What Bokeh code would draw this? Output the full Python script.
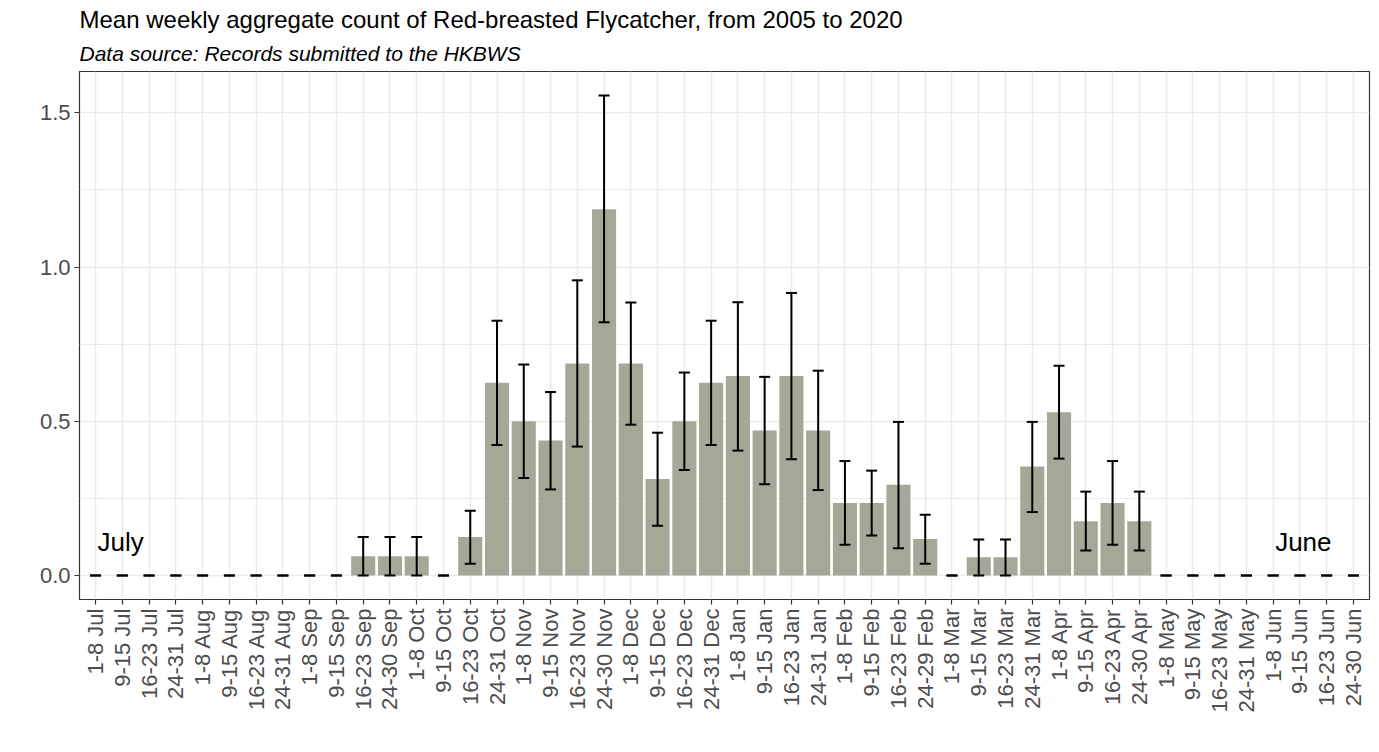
import math
from bokeh.plotting import figure
from bokeh.models import (ColumnDataSource, FactorRange, Range1d, FixedTicker,
                          NumeralTickFormatter, Whisker, TeeHead, Title)
from bokeh.core.properties import value
from bokeh.embed import file_html
from bokeh.resources import INLINE

months = ["Jul", "Aug", "Sep", "Oct", "Nov", "Dec", "Jan", "Feb", "Mar", "Apr", "May", "Jun"]
month_last = {"Jul": "31", "Aug": "31", "Sep": "30", "Oct": "31", "Nov": "30", "Dec": "31",
              "Jan": "31", "Feb": "29", "Mar": "31", "Apr": "30", "May": "31", "Jun": "30"}
weeks = []
for m in months:
    weeks += ["1-8 " + m, "9-15 " + m, "16-23 " + m, "24-" + month_last[m] + " " + m]

mean_count = [0, 0, 0, 0,            # Jul
              0, 0, 0, 0,            # Aug
              0, 0, 0.0625, 0.0625,  # Sep
              0.0625, 0, 0.125, 0.625,   # Oct
              0.5, 0.4375, 0.6875, 1.1875,  # Nov
              0.6875, 0.3125, 0.5, 0.625,   # Dec
              0.647, 0.47, 0.647, 0.47,     # Jan
              0.235, 0.235, 0.294, 0.118,   # Feb
              0, 0.0588, 0.0588, 0.353,     # Mar
              0.529, 0.176, 0.235, 0.176,   # Apr
              0, 0, 0, 0,            # May
              0, 0, 0, 0]            # Jun
err_low = [0, 0, 0, 0,
           0, 0, 0, 0,
           0, 0, 0, 0,
           0, 0, 0.038, 0.423,
           0.316, 0.279, 0.418, 0.821,
           0.489, 0.161, 0.342, 0.423,
           0.405, 0.296, 0.377, 0.277,
           0.10, 0.130, 0.088, 0.038,
           0, 0, 0, 0.206,
           0.379, 0.081, 0.10, 0.081,
           0, 0, 0, 0,
           0, 0, 0, 0]
err_high = [0, 0, 0, 0,
            0, 0, 0, 0,
            0, 0, 0.125, 0.125,
            0.125, 0, 0.21, 0.826,
            0.684, 0.595, 0.957, 1.556,
            0.885, 0.463, 0.658, 0.826,
            0.886, 0.644, 0.916, 0.664,
            0.371, 0.340, 0.498, 0.197,
            0, 0.117, 0.117, 0.498,
            0.680, 0.272, 0.371, 0.272,
            0, 0, 0, 0,
            0, 0, 0, 0]
y_ticks = [0, 0.5, 1.0, 1.5]
y_minor = [0.25, 0.75, 1.25]
season_labels = ["July", "June"]
season_at = ["1-8 Jul", "1-8 Jun"]

src = ColumnDataSource(dict(week=weeks, mean=mean_count, lower=err_low, upper=err_high))

p = figure(width=1376, height=750, output_backend="svg", toolbar_location=None,
           x_range=FactorRange(factors=weeks, range_padding=0.1, range_padding_units="absolute"),
           y_range=Range1d(-0.0778, 1.634),
           min_border_left=79, min_border_right=7, min_border_top=71, min_border_bottom=151)
p.title = None

sub = Title(text="Data source: Records submitted to the HKBWS", text_font="Liberation Sans",
            text_font_size="21px", text_font_style="italic", text_color="black",
            offset=0, standoff=13)
main = Title(text="Mean weekly aggregate count of Red-breasted Flycatcher, from 2005 to 2020",
             text_font="Liberation Sans", text_font_size="24px", text_font_style="normal",
             text_color="black", offset=0, standoff=2)
p.add_layout(sub, "above")
p.add_layout(main, "above")

p.vbar(x="week", top="mean", width=0.9, source=src, fill_color="#A6A796", line_color=None)

wh = Whisker(base="week", lower="lower", upper="upper", source=src, level="overlay",
             line_color="black", line_width=2,
             upper_head=TeeHead(size=11, line_color="black", line_width=2),
             lower_head=TeeHead(size=11, line_color="black", line_width=2))
p.add_layout(wh)

p.text(x=season_at, y=[0.11, 0.11], text=season_labels, text_font=value("Liberation Sans"),
       text_font_size="26px", text_color="black", text_align="left", text_baseline="alphabetic",
       x_offset=2)

p.background_fill_color = "white"
p.outline_line_color = "#333333"
p.outline_line_width = 1.2

p.xgrid.grid_line_color = "#ebebeb"
p.xgrid.grid_line_width = 1.5
p.ygrid.grid_line_color = "#ebebeb"
p.ygrid.grid_line_width = 1.5
p.ygrid.minor_grid_line_color = "#ebebeb"
p.ygrid.minor_grid_line_width = 1.2

p.yaxis.ticker = FixedTicker(ticks=y_ticks, minor_ticks=y_minor)
p.yaxis.formatter = NumeralTickFormatter(format="0.0")

for ax in (p.xaxis[0], p.yaxis[0]):
    ax.axis_line_color = None
    ax.major_tick_line_color = "#333333"
    ax.major_tick_line_width = 1.2
    ax.major_tick_out = 5
    ax.major_tick_in = 0
    ax.minor_tick_line_color = None
    ax.major_label_text_font = "Liberation Sans"
    ax.major_label_text_font_size = "22px"
    ax.major_label_text_color = "#4d4d4d"
    ax.major_label_standoff = 4

p.xaxis.major_label_orientation = math.pi / 2

open("out.html", "w").write(file_html(p, INLINE))
